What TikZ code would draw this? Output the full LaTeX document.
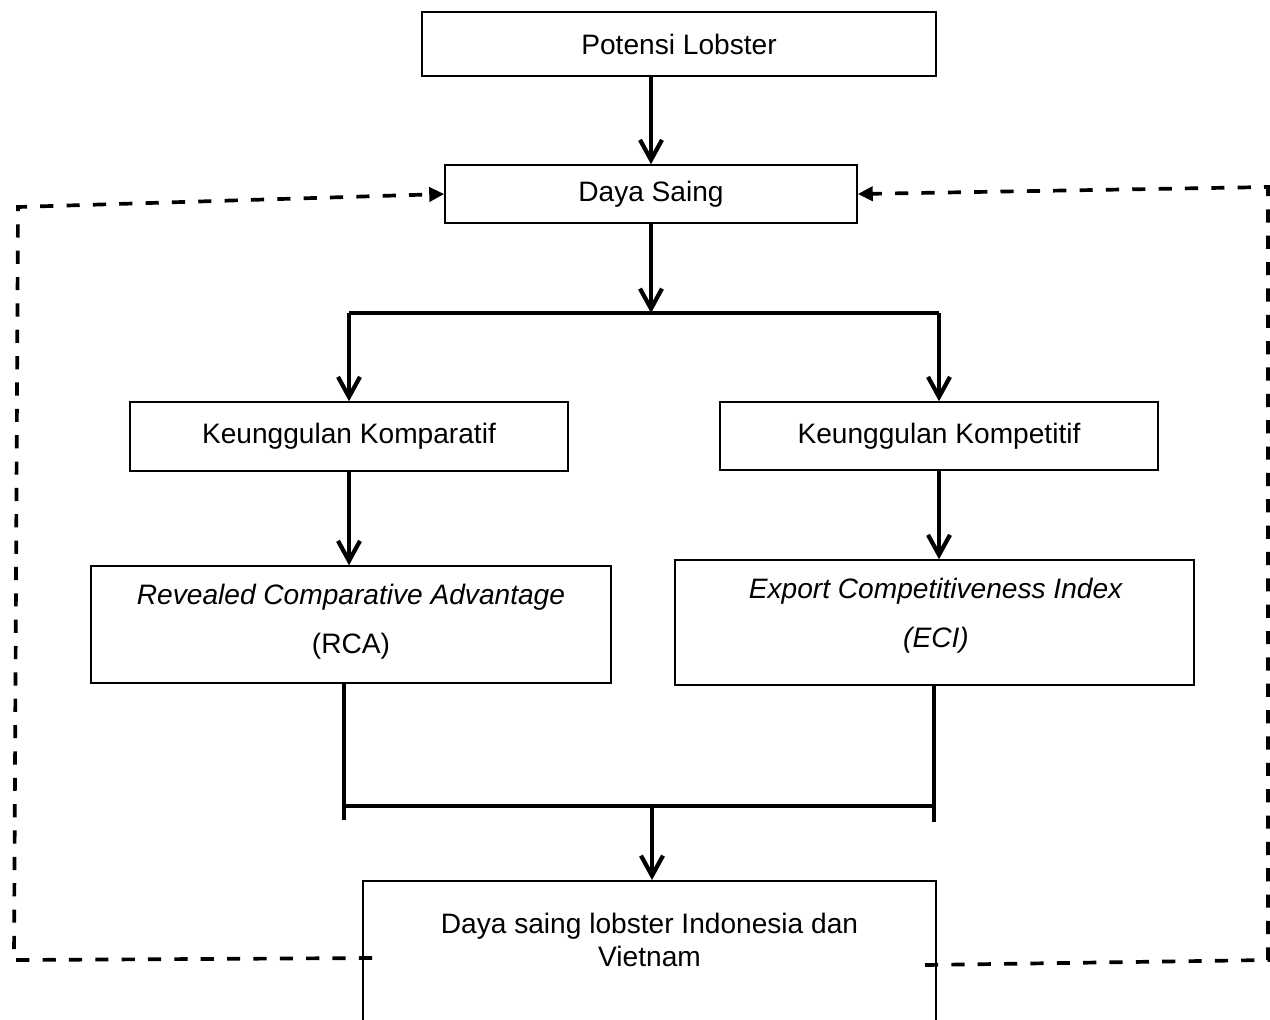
\documentclass[tikz,border=0pt]{standalone}
\usepackage{fontspec}
\setmainfont{Liberation Sans}
\usetikzlibrary{arrows.meta}

\begin{document}
\begin{tikzpicture}[x=0.02cm, y=-0.02cm,
  box/.style={draw, line width=0.9pt, inner sep=0pt, align=center, font=\fontsize{16}{19}\selectfont},
  boxtext/.style={align=center, font=\fontsize{16}{28}\selectfont},
  flow/.style={line width=2.4pt, -{Straight Barb[length=4mm, width=4.4mm, line width=2.4pt]}},
  bar/.style={line width=2.4pt},
  feedback/.style={line width=2.1pt, dash pattern=on 7.5pt off 7.5pt, -{Triangle[length=3mm, width=2.8mm]}}]

\clip (0,0) rectangle (1270,1019);

\node[box, minimum width=10.28cm, minimum height=1.28cm] (pot) at (679,44) {Potensi Lobster};
\node[box, minimum width=8.24cm, minimum height=1.16cm] (ds) at (651,194) {Daya Saing};
\node[box, minimum width=8.76cm, minimum height=1.38cm] (kom) at (349,436.5) {Keunggulan Komparatif};
\node[box, minimum width=8.76cm, minimum height=1.36cm] (kpt) at (939,436) {Keunggulan Kompetitif};
\node[box, minimum width=10.4cm, minimum height=2.34cm] (rca) at (351,624.5) {};
\node[boxtext] (rcatext) at (351,622) {\textit{Revealed Comparative Advantage}\\(RCA)};
\node[box, minimum width=10.38cm, minimum height=2.5cm] (eci) at (934.5,622.5) {};
\node[boxtext] (ecitext) at (936,616) {\textit{Export Competitiveness Index}\\\textit{(ECI)}};
\node[box, minimum width=11.46cm, minimum height=4cm, anchor=north] (res) at (649.5,880) {};
\node[align=center, font=\fontsize{16}{19}\selectfont] (restext) at (649.5,940) {Daya saing lobster Indonesia dan\\Vietnam};

\coordinate (split) at (651,313);
\coordinate (joinl) at (344,806);
\coordinate (joinr) at (934,806);
\coordinate (join) at (652,806);
\coordinate (endl) at (344,820);
\coordinate (endr) at (934,822);

\draw[flow] (pot.south -| ds) -- (ds);
\draw[flow] (ds) -- (split);
\draw[bar] (kom |- split) -- (kpt |- split);
\draw[flow] (kom |- split) -- (kom);
\draw[flow] (kpt |- split) -- (kpt);
\draw[flow] (kom) -- (kom |- rca.north);
\draw[flow] (kpt) -- (kpt |- eci.north);
\draw[bar] (joinl |- rca.south) -- (endl);
\draw[bar] (joinr |- eci.south) -- (endr);
\draw[bar] (joinl) -- (joinr);
\draw[flow] (join) -- (join |- res.north);

\coordinate (fbl) at (372,958);
\coordinate (lb) at (14,960);
\coordinate (lt) at (18,207);
\coordinate (fbr) at (925,965);
\coordinate (rb) at (1268,960);
\coordinate (rt) at (1268,187);
\draw[feedback] (fbl) -- (lb) -- (lt) -- (ds.west);
\draw[feedback] (fbr) -- (rb) -- (rt) -- (ds.east);
\end{tikzpicture}
\end{document}
